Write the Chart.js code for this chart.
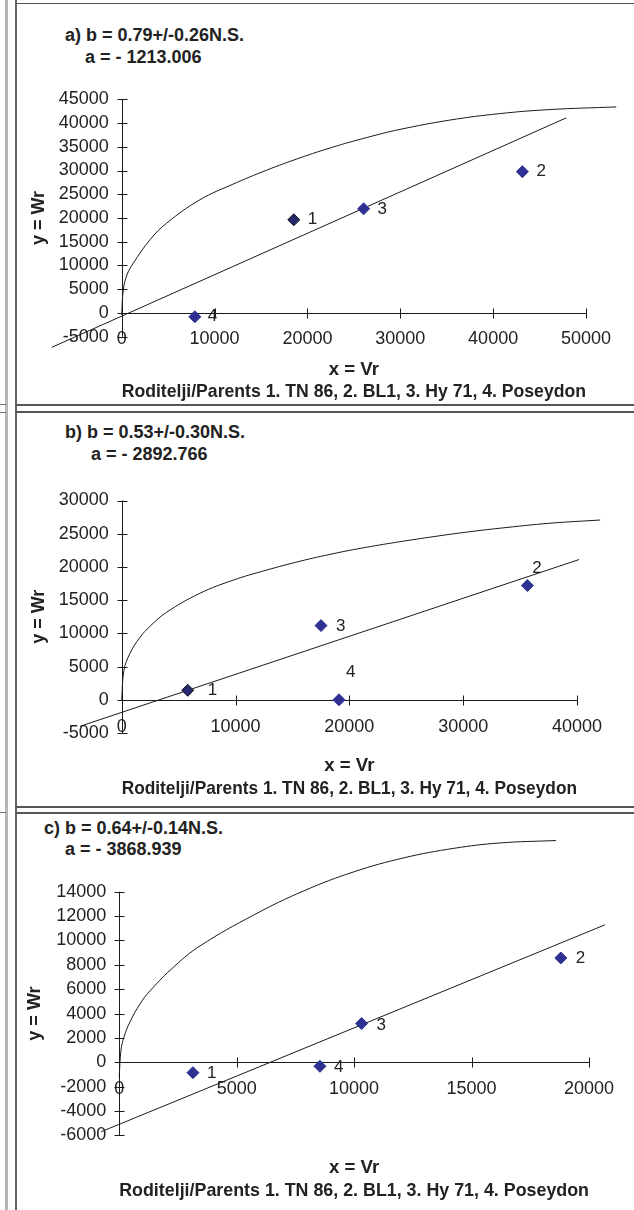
<!DOCTYPE html>
<html><head><meta charset="utf-8">
<script src="https://cdn.jsdelivr.net/npm/chart.js@4"></script>
<style>
html,body{margin:0;padding:0;background:#fff;}
body{width:634px;height:1210px;position:relative;overflow:hidden;font-family:"Liberation Sans",Arial,sans-serif;}
.ln{position:absolute;}
canvas{position:absolute;left:0;}
.t{position:absolute;font-weight:bold;font-size:18px;color:#222;white-space:nowrap;line-height:18px;}
</style></head><body>
<div class="ln" style="left:5px;top:0;width:3px;height:1210px;background:#b5b5b5"></div>
<div class="ln" style="left:15px;top:0;width:2px;height:1210px;background:#666"></div>
<div class="ln" style="left:15px;top:3px;width:619px;height:1px;background:#555"></div>
<div class="ln" style="left:15px;top:404px;width:619px;height:2px;background:#555"></div>
<div class="ln" style="left:15px;top:411px;width:619px;height:2px;background:#555"></div>
<div class="ln" style="left:0;top:404px;width:6px;height:1px;background:#777"></div>
<div class="ln" style="left:0;top:412px;width:6px;height:1px;background:#777"></div>
<div class="ln" style="left:15px;top:806px;width:619px;height:2px;background:#555"></div>
<div class="ln" style="left:15px;top:812px;width:619px;height:2px;background:#555"></div>
<div class="ln" style="left:0;top:812px;width:6px;height:1px;background:#777"></div>

<div class="t" style="left:65px;top:26px">a) b = 0.79+/-0.26N.S.</div>
<div class="t" style="left:85px;top:48px">a = - 1213.006</div>
<div class="t" style="left:65px;top:423px">b) b = 0.53+/-0.30N.S.</div>
<div class="t" style="left:91px;top:445px">a = - 2892.766</div>
<div class="t" style="left:44px;top:819px">c) b = 0.64+/-0.14N.S.</div>
<div class="t" style="left:65px;top:840px">a = - 3868.939</div>

<canvas id="ca" width="634" height="404" style="top:0px"></canvas>
<canvas id="cb" width="634" height="395" style="top:412px"></canvas>
<canvas id="cc" width="634" height="398" style="top:812px"></canvas>

<script>
const FAM = "'Liberation Sans', Arial, sans-serif";
Chart.defaults.font.family = FAM;
Chart.defaults.color = '#222';

const parentLabels = ['1', '2', '3', '4'];
const xTitleLines = ['x = Vr', 'Roditelji/Parents 1. TN 86, 2. BL1, 3. Hy 71, 4. Poseydon'];
const yTitleText = 'y = Wr';

// ---- panel a ----
const aXTicks = [0, 10000, 20000, 30000, 40000, 50000];
const aYTicks = [-5000, 0, 5000, 10000, 15000, 20000, 25000, 30000, 35000, 40000, 45000];
const aVr = [18530, 43150, 26050, 7880];
const aWr = [19620, 29750, 21940, -800];
const aLineVr = [-7530, 47860];
const aLineWr = [-7240, 41080];
const aCurveVr = [0, 170, 570, 1250, 3040, 4840, 8420, 11970, 15590, 19170, 22720, 26340, 29860, 35300, 40680, 46050, 53260];
const aCurveWr = [-420, 4850, 8020, 10490, 15400, 18920, 23840, 27110, 30060, 32640, 34920, 36920, 38610, 40610, 41980, 42830, 43400];

// ---- panel b ----
const bXTicks = [0, 10000, 20000, 30000, 40000];
const bYTicks = [-5000, 0, 5000, 10000, 15000, 20000, 25000, 30000];
const bVr = [5800, 35640, 17510, 19090];
const bWr = [1430, 17200, 11170, 0];
const bLineVr = [-3660, 40180];
const bLineWr = [-3990, 21110];
const bCurveVr = [0, 200, 730, 1610, 2490, 3950, 6880, 9780, 12680, 15670, 18570, 21530, 24460, 27360, 30250, 33240, 37640, 42030];
const bCurveWr = [0, 4440, 7000, 9410, 11070, 13180, 16040, 18000, 19500, 20860, 21990, 22970, 23800, 24550, 25230, 25830, 26580, 27060];

// ---- panel c ----
const cXTicks = [0, 5000, 10000, 15000, 20000];
const cYTicks = [-6000, -4000, -2000, 0, 2000, 4000, 6000, 8000, 10000, 12000, 14000];
const cVr = [3140, 18800, 10320, 8545];
const cWr = [-850, 8560, 3180, -330];
const cLineVr = [-770, 20680];
const cLineWr = [-5700, 11280];
const cCurveVr = [0, 77, 204, 460, 885, 1310, 2370, 3440, 5740, 7860, 9990, 12120, 14250, 16200, 18590];
const cCurveWr = [-1200, 1010, 2080, 3320, 4790, 5860, 7910, 9550, 12100, 14070, 15630, 16780, 17560, 18000, 18200];

function pts(xs, ys) { return xs.map((x, i) => ({x: x, y: ys[i]})); }

const crossAxes = {
  id: 'crossAxes',
  beforeDatasetsDraw(chart) {
    const ctx = chart.ctx, xs = chart.scales.x, ys = chart.scales.y;
    const x0 = Math.round(xs.getPixelForValue(0)) + 0.5;
    const y0 = Math.round(ys.getPixelForValue(0)) + 0.5;
    ctx.save();
    ctx.strokeStyle = '#1a1a1a';
    ctx.lineWidth = 1;
    ctx.beginPath();
    ctx.moveTo(x0, ys.getPixelForValue(ys.max));
    ctx.lineTo(x0, ys.getPixelForValue(ys.min));
    ys.ticks.forEach(t => {
      const p = Math.round(ys.getPixelForValue(t.value)) + 0.5;
      ctx.moveTo(x0 - 5, p); ctx.lineTo(x0 + 5, p);
    });
    ctx.moveTo(xs.getPixelForValue(xs.min), y0);
    ctx.lineTo(xs.getPixelForValue(xs.max), y0);
    xs.ticks.forEach(t => {
      const p = Math.round(xs.getPixelForValue(t.value)) + 0.5;
      ctx.moveTo(p, y0 - 5); ctx.lineTo(p, y0 + 5);
    });
    ctx.stroke();
    ctx.restore();
  }
};

const pointNames = {
  id: 'pointNames',
  afterDatasetsDraw(chart, args, opts) {
    const ctx = chart.ctx;
    const meta = chart.getDatasetMeta(0);
    ctx.save();
    ctx.font = '17px ' + FAM;
    ctx.fillStyle = '#222';
    ctx.textAlign = 'left';
    ctx.textBaseline = 'middle';
    meta.data.forEach((el, i) => {
      const off = opts.offsets[i] || [14, 0];
      ctx.fillText(opts.names[i], el.x + off[0], el.y + off[1]);
    });
    ctx.restore();
  }
};

function makeChart(id, s) {
  const top = s.top, H = s.height;
  return new Chart(document.getElementById(id), {
    type: 'scatter',
    data: {
      datasets: [
        {data: pts(s.vr, s.wr), pointStyle: 'rectRot', pointRadius: 6, pointHoverRadius: 6,
         backgroundColor: s.fill, borderColor: s.edge, borderWidth: 1, clip: false},
        {data: pts(s.lineX, s.lineY), showLine: true, pointRadius: 0, borderColor: '#1a1a1a',
         borderWidth: 1, tension: 0, clip: false},
        {data: pts(s.curveX, s.curveY), showLine: true, pointRadius: 0, borderColor: '#1a1a1a',
         borderWidth: 1, tension: 0.4, capBezierPoints: false, clip: false}
      ]
    },
    options: {
      responsive: false, animation: false, devicePixelRatio: 1, events: [],
      layout: {padding: {left: 0, top: s.T - top, right: 634 - s.R, bottom: top + H - s.B}},
      plugins: {
        legend: {display: false}, tooltip: {enabled: false},
        pointNames: {names: parentLabels, offsets: s.offsets}
      },
      scales: {
        x: {
          type: 'linear', position: {y: 0},
          min: s.xTicks[0], max: s.xTicks[s.xTicks.length - 1],
          afterBuildTicks: sc => { sc.ticks = s.xTicks.map(v => ({value: v})); },
          afterFit: sc => { sc.height = s.xBoxH; },
          ticks: {autoSkip: false, maxRotation: 0, padding: s.xPad, color: '#222',
                  font: {size: 18}, callback: v => String(v)},
          grid: {display: false, drawTicks: false},
          border: {display: false},
          title: {display: true, text: xTitleLines, color: '#222',
                  font: {size: 18.6, weight: 'bold'}, padding: {top: 0, bottom: 0}}
        },
        y: {
          type: 'linear', position: 'left',
          min: s.yTicks[0], max: s.yTicks[s.yTicks.length - 1],
          afterBuildTicks: sc => { sc.ticks = s.yTicks.map(v => ({value: v})); },
          afterFit: sc => { sc.width = s.L; },
          ticks: {autoSkip: false, padding: 13, color: '#222', font: {size: 18}, callback: v => String(v)},
          grid: {display: false, drawTicks: false},
          border: {display: false},
          title: {display: true, text: yTitleText, color: '#222',
                  font: {size: 18, weight: 'bold'}, padding: {top: s.yTitleX - 10.8, bottom: 0}}
        }
      }
    },
    plugins: [crossAxes, pointNames]
  });
}

const BLUE = '#2e3192';
makeChart('ca', {
  top: 0, height: 404, L: 121.7, R: 586, T: 99.3, B: 336.7,
  xTicks: aXTicks, yTicks: aYTicks, vr: aVr, wr: aWr,
  lineX: aLineVr, lineY: aLineWr, curveX: aCurveVr, curveY: aCurveWr,
  xPad: 15.5, xBoxH: 90.5, yTitleX: 39.5,
  fill: ['#262a6e', BLUE, BLUE, BLUE], edge: ['#111', BLUE, BLUE, BLUE],
  offsets: [[14, 0], [14, 0], [14, 1], [13, 0]]
});
makeChart('cb', {
  top: 412, height: 395, L: 121.7, R: 577, T: 500.5, B: 733,
  xTicks: bXTicks, yTicks: bYTicks, vr: bVr, wr: bWr,
  lineX: bLineVr, lineY: bLineWr, curveX: bCurveVr, curveY: bCurveWr,
  xPad: 16, xBoxH: 100, yTitleX: 39.5,
  fill: ['#262a6e', BLUE, BLUE, BLUE], edge: ['#111', BLUE, BLUE, BLUE],
  offsets: [[20, 0], [5, -17], [15, 1], [7, -27]]
});
makeChart('cc', {
  top: 812, height: 398, L: 119.2, R: 589, T: 891.7, B: 1135.4,
  xTicks: cXTicks, yTicks: cYTicks, vr: cVr, wr: cWr,
  lineX: cLineVr, lineY: cLineWr, curveX: cCurveVr, curveY: cCurveWr,
  xPad: 16.2, xBoxH: 139.5, yTitleX: 35,
  fill: [BLUE, BLUE, BLUE, BLUE], edge: [BLUE, BLUE, BLUE, BLUE],
  offsets: [[14, 1], [15, 0], [15, 2], [14, 1]]
});
</script>
</body></html>
